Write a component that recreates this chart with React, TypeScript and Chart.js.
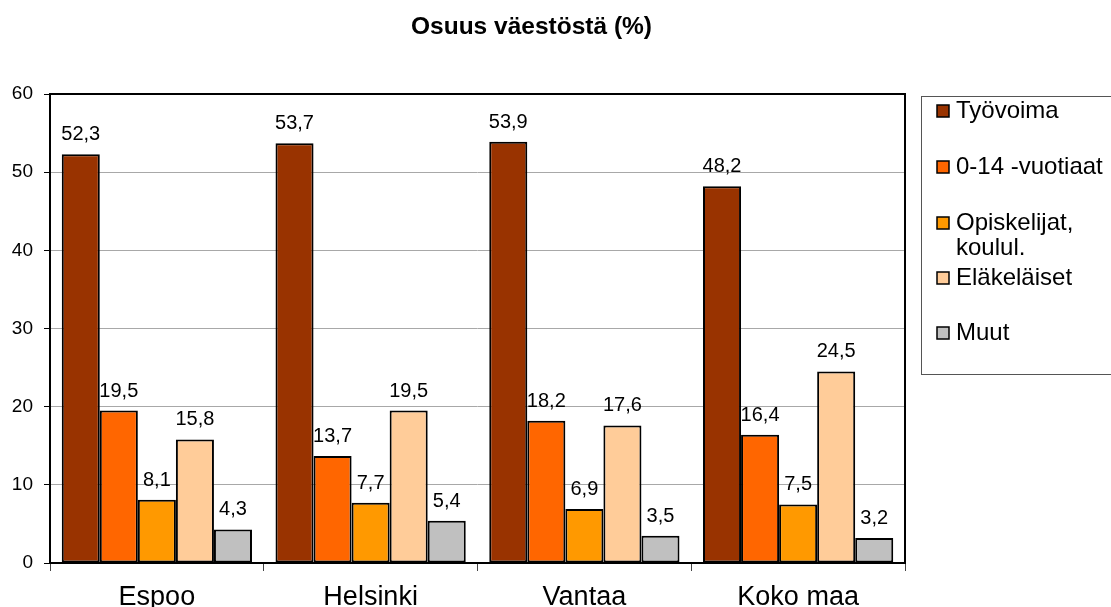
import React, { useEffect, useRef } from "react";
import { Chart, registerables } from "chart.js";

Chart.register(...registerables);

const categories = ["Espoo", "Helsinki", "Vantaa", "Koko maa"];
const seriesNames = ["Työvoima", "0-14 -vuotiaat", "Opiskelijat, koulul.", "Eläkeläiset", "Muut"];
const legendLines = [["Työvoima"], ["0-14 -vuotiaat"], ["Opiskelijat,", "koulul."], ["Eläkeläiset"], ["Muut"]];
const tyovoima = [52.3, 53.7, 53.9, 48.2];
const lapset = [19.5, 13.7, 18.2, 16.4];
const opiskelijat = [8.1, 7.7, 6.9, 7.5];
const elakelaiset = [15.8, 19.5, 17.6, 24.5];
const muut = [4.3, 5.4, 3.5, 3.2];
const seriesValues = [tyovoima, lapset, opiskelijat, elakelaiset, muut];
const seriesColors = ["#993300", "#FF6600", "#FF9900", "#FFCC99", "#C0C0C0"];
const titleText = "Osuus väestöstä (%)";

const FONT = "'Liberation Sans', Arial, sans-serif";

const extrasPlugin = {
  id: "extras",
  afterDatasetsDraw(chart: any) {
    const ctx = chart.ctx;
    ctx.save();
    ctx.fillStyle = "#000";
    ctx.font = `20px ${FONT}`;
    ctx.textAlign = "center";
    ctx.textBaseline = "alphabetic";
    chart.data.datasets.forEach((ds: any, i: number) => {
      const meta = chart.getDatasetMeta(i);
      meta.data.forEach((bar: any, j: number) => {
        const v = ds.data[j];
        ctx.fillText(v.toFixed(1).replace(".", ","), bar.x, bar.y - 14);
      });
    });
    ctx.restore();
  },
  afterDraw(chart: any) {
    const ctx = chart.ctx;
    const a = chart.chartArea;
    ctx.save();
    // plot border
    ctx.strokeStyle = "#000";
    ctx.lineWidth = 2;
    ctx.strokeRect(a.left, a.top, a.right - a.left, a.bottom - a.top);
    // title
    ctx.fillStyle = "#000";
    ctx.font = `bold 24.5px ${FONT}`;
    ctx.textAlign = "center";
    ctx.textBaseline = "alphabetic";
    ctx.fillText(titleText, 531.5, 34);
    // legend
    const lx = 921.5;
    const ly = 96.5;
    ctx.strokeStyle = "#555";
    ctx.lineWidth = 1;
    ctx.strokeRect(lx, ly, 260, 278);
    const rows = [111, 167, 223, 278, 333];
    ctx.font = `24px ${FONT}`;
    ctx.textAlign = "left";
    ctx.textBaseline = "middle";
    legendLines.forEach((lines, i) => {
      const y = rows[i];
      ctx.fillStyle = seriesColors[i];
      ctx.fillRect(937, y - 6, 12, 12);
      ctx.strokeStyle = "#000";
      ctx.lineWidth = 1.5;
      ctx.strokeRect(937, y - 6, 12, 12);
      ctx.fillStyle = "#000";
      lines.forEach((t, k) => {
        ctx.fillText(t, 956, y + k * 25);
      });
    });
    ctx.restore();
  },
};

export default function App() {
  const ref = useRef<HTMLCanvasElement | null>(null);
  useEffect(() => {
    if (!ref.current) return;
    const chart = new Chart(ref.current, {
      type: "bar",
      data: {
        labels: categories,
        datasets: seriesNames.map((name, i) => ({
          label: name,
          data: seriesValues[i],
          backgroundColor: seriesColors[i],
          borderColor: "#000",
          borderWidth: 2,
          borderSkipped: false,
          categoryPercentage: 0.89,
          barPercentage: 1.0,
        })),
      },
      options: {
        responsive: false,
        animation: false,
        layout: { padding: { top: 94, right: 206, left: 0, bottom: 0 } },
        plugins: {
          legend: { display: false },
          title: { display: false },
          tooltip: { enabled: false },
        },
        scales: {
          x: {
            afterFit: (s: any) => {
              s.height = 44;
            },
            grid: {
              drawOnChartArea: false,
              drawTicks: true,
              tickLength: 8,
              color: "#444",
              offset: true,
            },
            border: { display: false },
            ticks: {
              color: "#000",
              font: { family: FONT, size: 27 },
              padding: 10,
              maxRotation: 0,
            },
          },
          y: {
            min: 0,
            max: 60,
            afterFit: (s: any) => {
              s.width = 50;
            },
            grid: {
              color: "#a8a8a8",
              tickColor: "#000",
              tickLength: 6,
              lineWidth: 1,
            },
            border: { display: false },
            ticks: {
              stepSize: 10,
              color: "#000",
              font: { family: FONT, size: 19 },
              padding: 11,
            },
          },
        },
      },
      plugins: [extrasPlugin],
    });
    return () => chart.destroy();
  }, []);
  return (
    <div style={{ position: "absolute", left: 0, top: 0, width: 1111, height: 607, background: "#fff" }}>
      <canvas ref={ref} width={1111} height={607} />
    </div>
  );
}
